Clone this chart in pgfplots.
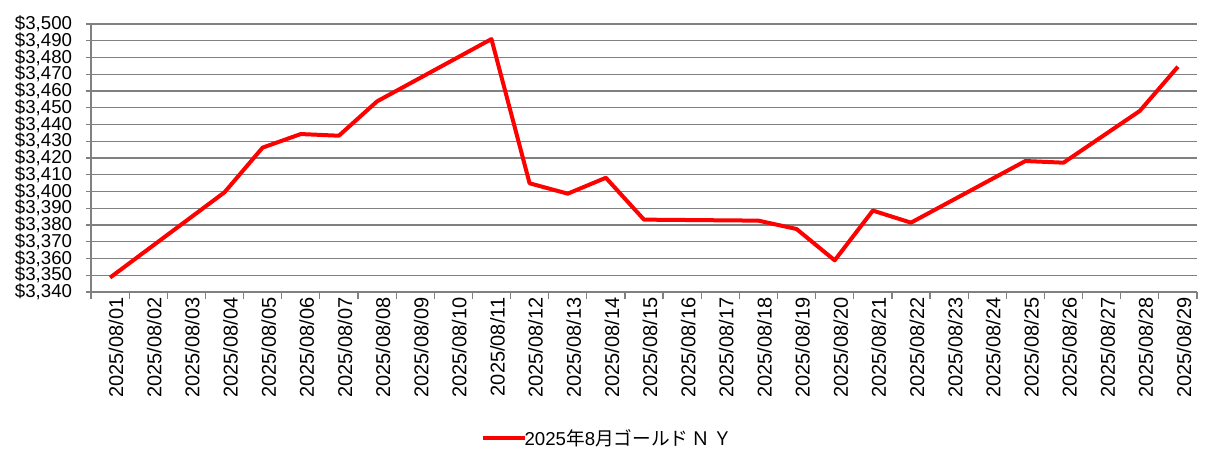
\documentclass[border=0pt]{standalone}
\usepackage{pgfplots}
\pgfplotsset{compat=1.18}
\usepackage{fontspec}
\setmainfont{Liberation Sans}
\newfontfamily\jp{Noto Sans CJK JP}
\definecolor{gridgray}{RGB}{128,128,128}
\begin{document}
\begin{tikzpicture}
\useasboundingbox (0pt,0pt) rectangle (915.75pt,353.25pt);
\begin{axis}[
  at={(68.25pt,134.25pt)}, anchor=south west,
  scale only axis, width=829.5pt, height=201pt,
  xmin=-0.5, xmax=28.5, ymin=3340, ymax=3500,
  axis x line=bottom, axis y line=left,
  axis line style={gridgray, line width=0.9pt, -},
  xtick={0,...,28},
  xticklabels={2025/08/01,2025/08/02,2025/08/03,2025/08/04,2025/08/05,2025/08/06,2025/08/07,2025/08/08,2025/08/09,2025/08/10,2025/08/11,2025/08/12,2025/08/13,2025/08/14,2025/08/15,2025/08/16,2025/08/17,2025/08/18,2025/08/19,2025/08/20,2025/08/21,2025/08/22,2025/08/23,2025/08/24,2025/08/25,2025/08/26,2025/08/27,2025/08/28,2025/08/29},
  major x tick style={draw=none},
  minor xtick={-0.5,0.5,...,28.5},
  minor x tick style={gridgray, line width=0.9pt},
  minor tick length=5.5pt,
  tick align=outside,
  ytick={3340,3350,...,3500},
  major y tick style={gridgray, line width=0.9pt},
  major tick length=4pt,
  ymajorgrids, grid style={gridgray, line width=0.9pt},
  /pgf/number format/assume math mode=true,
  /pgf/number format/1000 sep={,},
  yticklabel={\$\pgfmathprintnumber{\tick}},
  yticklabel style={font=\fontsize{14pt}{14pt}\selectfont, inner sep=0pt, xshift=-10pt},
  xticklabel style={font=\fontsize{15pt}{15pt}\selectfont, rotate=90, anchor=east, inner sep=0pt, yshift=-4.5pt},
  xtick pos=bottom, ytick pos=left,
  legend style={at={(0.352,-0.545)}, anchor=west, draw=none, fill=none,
    font=\fontsize{14pt}{14pt}\selectfont, inner sep=0pt},
  legend cell align=left,
  legend image code/.code={\draw[#1, line width=3pt] (0pt,0pt) -- (32pt,0pt);},
  clip=false,
]
\addplot[red, line width=3pt, line join=round, mark=none] coordinates {
(0,3348.6) (3,3399.5) (4,3426.2) (5,3434.3) (6,3433.3) (7,3453.8)
(10,3491.0) (11,3404.9) (12,3398.7) (13,3408.2) (14,3383.2)
(17,3382.6) (18,3377.6) (19,3358.9) (20,3388.6) (21,3381.4)
(24,3418.2) (25,3417.2) (27,3448.1) (28,3474.5)
};
\addlegendentry{\hspace{-4pt}2025{\jp 年}8{\jp 月ゴールド\,Ｎ\,Ｙ}}
\end{axis}
\end{tikzpicture}
\end{document}
